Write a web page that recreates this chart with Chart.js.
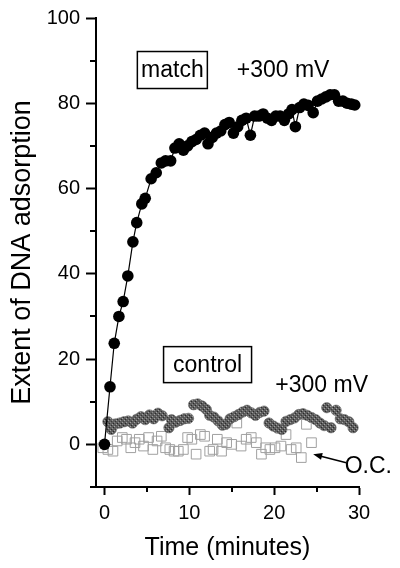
<!DOCTYPE html>
<html>
<head>
<meta charset="utf-8">
<script src="https://cdn.jsdelivr.net/npm/chart.js@4.4.1/dist/chart.umd.min.js"></script>
<style>
  html, body { margin: 0; padding: 0; background: #fff; }
  #wrap { width: 400px; height: 568px; }
</style>
</head>
<body>
<div id="wrap"><canvas id="chart"></canvas></div>
<script>
// -----------------------------
// Data
// -----------------------------
const matchTime = [0, 0.65, 1.15, 1.7, 2.2, 2.75, 3.35, 3.8, 4.4, 4.8, 5.5, 6.1, 6.7, 7.2, 7.8, 8.3, 8.8, 9.3, 9.8,
    10.3, 10.8, 11.3, 11.8, 12.2, 12.7, 13.2, 13.7, 14.2, 14.7, 15.2, 15.7, 16.2, 16.7, 17.2, 17.7, 18.2, 18.7,
    19.2, 19.7, 20.2, 20.7, 21.2, 21.7, 22.1, 22.5, 23.0, 23.5, 24.0, 24.6, 25.1, 25.6, 26.1, 26.6, 27.1, 27.6,
    28.1, 28.6, 29.1, 29.5];
const matchValue = [0, 13.5, 23.7, 30, 33.5, 39.5, 47.5, 52, 56.4, 57.7, 62.3, 63.7, 66, 66.5, 66.5, 69.5, 70.5, 69, 70,
    71, 71.5, 72.5, 73, 70.5, 72, 73, 73.5, 75, 75.5, 73, 74.5, 76, 76.5, 72.5, 77, 77, 77.5,
    76.5, 76, 77, 77, 76, 77.5, 78.5, 74.5, 79, 79.8, 79.5, 77.8, 80.5, 81, 81.5, 82, 82, 80.5,
    80.5, 80, 79.8, 79.6];

// control, +300 mV (grey dots)
const ctrlTime = [0.4, 0.8, 1.3, 1.8, 2.3, 2.8, 3.3, 3.8, 4.3, 4.8, 5.3, 5.8, 6.3, 6.8, 7.6, 7.9, 8.4, 8.9, 9.4, 9.9,
    10.5, 11.0, 11.5, 12.0, 12.4, 12.9, 13.4, 13.9, 14.3, 14.8, 15.3, 15.8, 16.3, 16.8, 17.3, 17.8, 18.3, 18.8,
    19.4, 19.9, 20.4, 20.9, 21.4, 21.9, 22.4, 22.9, 23.4, 23.9, 24.4, 24.9, 25.4, 25.9, 26.2, 26.7, 27.3, 27.8,
    28.3, 28.8, 29.3];
const ctrlValue = [5.3, 3.5, 4.8, 5.0, 5.3, 5.5, 5.0, 5.9, 6.5, 5.8, 6.9, 6.0, 7.3, 6.7, 3.9, 5.8, 5.2, 5.6, 6.0, 6.1,
    9.3, 9.5, 9.0, 8.2, 6.8, 6.4, 5.5, 4.5, 4.7, 6.0, 6.5, 7.0, 7.6, 8.0, 7.4, 6.8, 7.5, 7.8,
    5.0, 4.3, 3.8, 3.5, 5.4, 5.8, 6.2, 7.0, 7.2, 6.8, 6.3, 5.8, 5.0, 4.4, 8.6, 3.9, 8.0, 6.0,
    5.8, 5.3, 3.9];

// open circuit (open squares)
const ocTime = [-0.2, 0.4, 1.0, 1.5, 2.1, 2.6, 3.1, 3.6, 4.1, 4.6, 5.2, 5.7, 6.2, 6.7, 7.2, 7.7, 8.2, 8.7, 9.3, 9.8,
    10.3, 10.8, 11.3, 11.8, 12.4, 12.8, 13.3, 13.8, 14.4, 15.0, 15.6, 16.1, 16.7, 17.3, 17.9, 18.5, 19.0, 19.5,
    20.1, 20.8, 21.4, 22.0, 22.6, 23.2, 23.8, 24.4];
const ocValue = [-0.8, -1.2, -1.6, 0.8, 1.6, 1.2, -0.8, 0.4, 1.2, -0.4, 1.6, -1.2, 0.8, 1.9, -0.8, -1.2, -1.6, -1.6, -1.2, 1.6,
    1.2, -2.3, 2.3, 1.9, -1.6, -1.2, 1.2, -1.6, 0.4, 0, 5.0, -0.4, 1.2, 1.6, 0.4, -2.3, -0.8, -1.2,
    -0.8, -0.4, 2.3, -1.2, -0.8, -3.1, 4.7, 0.4];

const xTickValues = [0, 5, 10, 15, 20, 25, 30];
const yTickValues = [-10, 0, 10, 20, 30, 40, 50, 60, 70, 80, 90, 100];

const toPoints = (xs, ys) => xs.map((x, i) => ({ x: x, y: ys[i] }));

// -----------------------------
// Speckled grey fill for the control dots
// -----------------------------
function speckle() {
    const c = document.createElement("canvas");
    c.width = 4;
    c.height = 4;
    const g = c.getContext("2d");
    g.fillStyle = "#5c5c5c";
    g.fillRect(0, 0, 4, 4);
    g.fillStyle = "#a0a0a0";
    g.fillRect(0, 0, 1, 1);
    g.fillRect(2, 2, 1, 1);
    g.fillStyle = "#2a2a2a";
    g.fillRect(1, 3, 1, 1);
    g.fillRect(3, 1, 1, 1);
    return g.createPattern(c, "repeat");
}

// -----------------------------
// Text labels, arrow, short minor ticks
// -----------------------------
const FONT = "'Liberation Sans', Arial, Helvetica, sans-serif";

const notes = [
    { text: "match", x: 8.0, y: 87.8, boxW: 70, boxH: 37 },
    { text: "+300 mV", x: 21.05, y: 87.8 },
    { text: "control", x: 12.15, y: 18.7, boxW: 88, boxH: 36 },
    { text: "+300 mV", x: 25.6, y: 14.0 },
    { text: "O.C.", x: 31.1, y: -4.9 }
];

const isMajorX = v => v % 10 === 0;
const isMajorY = v => v % 20 === 0;

const notesPlugin = {
    id: "notes",
    afterDraw(chart) {
        const { ctx, scales, chartArea } = chart;
        const sx = scales.x, sy = scales.y;
        ctx.save();
        ctx.strokeStyle = "#000";
        ctx.fillStyle = "#000";

        // minor ticks, shorter than the major ones
        ctx.lineWidth = 2;
        ctx.beginPath();
        xTickValues.filter(v => !isMajorX(v)).forEach(v => {
            const px = Math.round(sx.getPixelForValue(v));
            ctx.moveTo(px, chartArea.bottom);
            ctx.lineTo(px, chartArea.bottom + 5);
        });
        yTickValues.filter(v => !isMajorY(v)).forEach(v => {
            const py = Math.round(sy.getPixelForValue(v));
            ctx.moveTo(chartArea.left, py);
            ctx.lineTo(chartArea.left - 6, py);
        });
        ctx.stroke();

        ctx.font = "23px " + FONT;
        ctx.textAlign = "center";
        ctx.textBaseline = "middle";
        notes.forEach(n => {
            const px = sx.getPixelForValue(n.x);
            const py = sy.getPixelForValue(n.y);
            if (n.boxW) {
                ctx.lineWidth = 1.5;
                ctx.strokeRect(px - n.boxW / 2, py - n.boxH / 2, n.boxW, n.boxH);
            }
            ctx.fillText(n.text, px, py + 1);
        });

        // arrow pointing at the O.C. squares
        const x1 = sx.getPixelForValue(28.5), y1 = sy.getPixelForValue(-4.3);
        const x2 = sx.getPixelForValue(24.6), y2 = sy.getPixelForValue(-2.3);
        const a = Math.atan2(y2 - y1, x2 - x1);
        ctx.lineWidth = 1.5;
        ctx.beginPath();
        ctx.moveTo(x1, y1);
        ctx.lineTo(x2 - 6 * Math.cos(a), y2 - 6 * Math.sin(a));
        ctx.stroke();
        ctx.beginPath();
        ctx.moveTo(x2, y2);
        ctx.lineTo(x2 - 9 * Math.cos(a) + 3.5 * Math.sin(a), y2 - 9 * Math.sin(a) - 3.5 * Math.cos(a));
        ctx.lineTo(x2 - 9 * Math.cos(a) - 3.5 * Math.sin(a), y2 - 9 * Math.sin(a) + 3.5 * Math.cos(a));
        ctx.closePath();
        ctx.fill();
        ctx.restore();
    }
};

// -----------------------------
// Chart
// -----------------------------
const tickFont = { family: FONT, size: 20 };

new Chart(document.getElementById("chart"), {
    type: "scatter",
    data: {
        datasets: [
            {
                label: "match",
                data: toPoints(matchTime, matchValue),
                showLine: true,
                borderColor: "#000",
                borderWidth: 1.2,
                backgroundColor: "#000",
                pointBackgroundColor: "#000",
                pointBorderColor: "#000",
                pointBorderWidth: 0,
                pointRadius: 5.8,
                tension: 0,
                clip: false
            },
            {
                label: "control +300 mV",
                data: toPoints(ctrlTime, ctrlValue),
                pointBackgroundColor: speckle(),
                pointBorderColor: "#6a6a6a",
                pointBorderWidth: 0.6,
                pointRadius: 5.2,
                clip: false
            },
            {
                label: "O.C.",
                data: toPoints(ocTime, ocValue),
                pointStyle: "rect",
                pointBackgroundColor: "rgba(0,0,0,0)",
                pointBorderColor: "#a0a0a0",
                pointBorderWidth: 1,
                pointRadius: 6.8,
                clip: false
            }
        ]
    },
    options: {
        responsive: true,
        maintainAspectRatio: false,
        animation: false,
        events: [],
        layout: { padding: { left: 0, right: 41, top: 17, bottom: 0 } },
        plugins: {
            legend: { display: false },
            tooltip: { enabled: false }
        },
        scales: {
            x: {
                type: "linear",
                min: -1,
                max: 30,
                afterBuildTicks: s => { s.ticks = xTickValues.map(v => ({ value: v })); },
                afterFit: s => { s.height = 81; },
                ticks: {
                    callback: v => (isMajorX(v) ? v : ""),
                    font: tickFont,
                    color: "#000",
                    padding: 6,
                    maxRotation: 0,
                    autoSkip: false
                },
                grid: {
                    drawOnChartArea: false,
                    drawTicks: true,
                    tickLength: 8,
                    tickColor: c => (c.tick && isMajorX(c.tick.value) ? "#000" : "rgba(0,0,0,0)"),
                    tickWidth: 2
                },
                border: { display: true, color: "#000", width: 2 },
                title: {
                    display: true,
                    text: "Time (minutes)",
                    font: { family: FONT, size: 25 },
                    color: "#000",
                    padding: { top: 0, bottom: 5 }
                }
            },
            y: {
                type: "linear",
                min: -10,
                max: 100,
                afterBuildTicks: s => { s.ticks = yTickValues.map(v => ({ value: v })); },
                afterFit: s => { s.width = 96; },
                ticks: {
                    callback: v => (isMajorY(v) ? v : ""),
                    font: tickFont,
                    color: "#000",
                    padding: 6,
                    autoSkip: false
                },
                grid: {
                    drawOnChartArea: false,
                    drawTicks: true,
                    tickLength: 10,
                    tickColor: c => (c.tick && isMajorY(c.tick.value) ? "#000" : "rgba(0,0,0,0)"),
                    tickWidth: 2
                },
                border: { display: true, color: "#000", width: 2 },
                title: {
                    display: true,
                    text: "Extent of DNA adsorption",
                    font: { family: FONT, size: 27 },
                    color: "#000",
                    padding: { top: 6, bottom: 0 }
                }
            }
        }
    },
    plugins: [notesPlugin]
});
</script>
</body>
</html>
